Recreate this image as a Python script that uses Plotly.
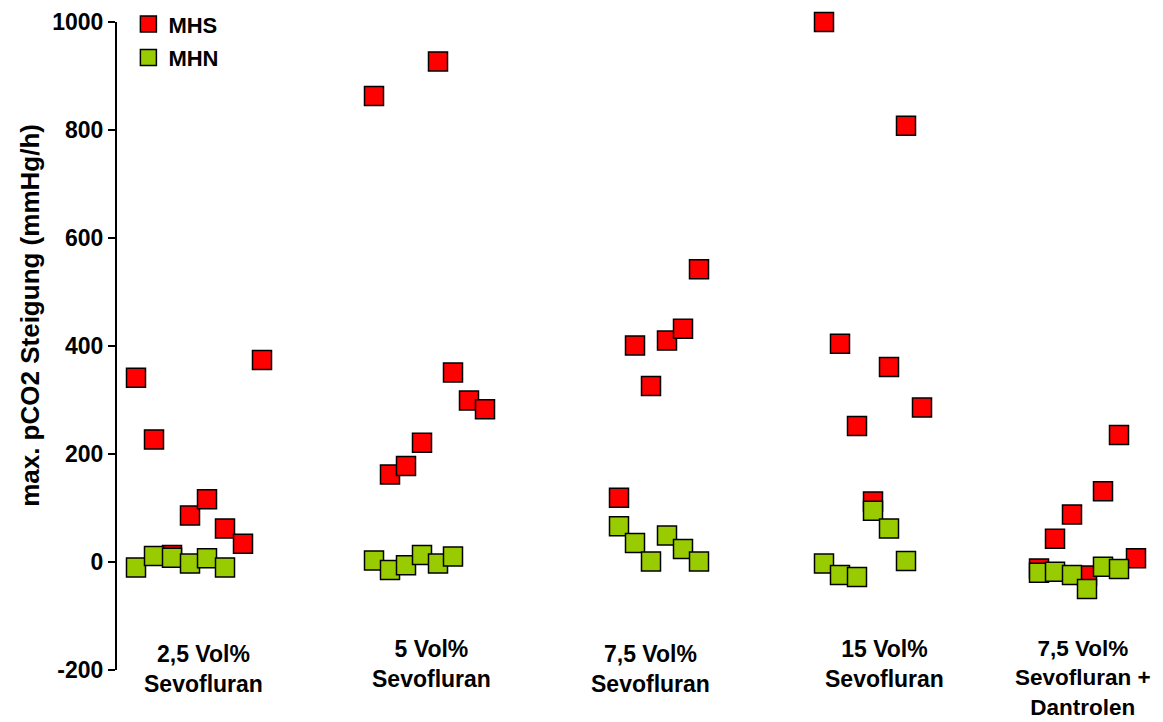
import plotly.graph_objects as go

# Treatment groups (label text as printed under each cluster)
groups = [
    "2,5 Vol%<br>Sevofluran",
    "5 Vol%<br>Sevofluran",
    "7,5 Vol%<br>Sevofluran",
    "15 Vol%<br>Sevofluran",
    "7,5 Vol%<br>Sevofluran +<br>Dantrolen",
]
# horizontal centre of each group label (x-axis units)
group_x = [0.86, 3.14, 5.33, 7.67, 9.66]
# vertical top of each group label (y-axis units)
group_label_y = [-143, -134, -143, -134, -134]
# label font size per group
group_font = [23, 23, 23, 23, 22.5]

# MHS animals: x position (jittered within group) and max. pCO2 slope (mmHg/h)
mhs_x = [0.19, 0.37, 0.55, 0.73, 0.90, 1.08, 1.26, 1.45,
         2.57, 2.73, 2.89, 3.05, 3.21, 3.36, 3.52, 3.68,
         5.02, 5.18, 5.34, 5.50, 5.66, 5.82,
         7.07, 7.23, 7.40, 7.56, 7.72, 7.89, 8.05,
         9.22, 9.38, 9.55, 9.70, 9.86, 10.02, 10.19]
mhs_y = [341, 227, 13, 86, 116, 62, 34, 374,
         863, 162, 178, 221, 927, 351, 299, 283,
         119, 401, 326, 410, 432, 542,
         1000, 404, 252, 112, 361, 808, 286,
         -12, 43, 88, -25, 131, 235, 7]

# MHN animals
mhn_x = [0.19, 0.37, 0.55, 0.73, 0.90, 1.08,
         2.57, 2.73, 2.89, 3.05, 3.21, 3.36,
         5.02, 5.18, 5.34, 5.50, 5.66, 5.82,
         7.07, 7.23, 7.40, 7.56, 7.72, 7.89,
         9.22, 9.38, 9.55, 9.70, 9.86, 10.02]
mhn_y = [-10, 11, 8, -3, 7, -10,
         3, -15, -6, 13, -3, 10,
         66, 35, 1, 49, 24, 1,
         -3, -24, -28, 95, 62, 2,
         -20, -18, -24, -50, -9, -13]

y_ticks = [-200, 0, 200, 400, 600, 800, 1000]

FONT = "Liberation Sans, Arial, sans-serif"
marker_line = dict(color="black", width=1.5)

fig = go.Figure()
fig.add_trace(go.Scatter(
    x=mhs_x, y=mhs_y, mode="markers", name="<b>MHS</b>", legendgroup="mhs",
    marker=dict(symbol="square", size=19, color="#FF0000", line=marker_line),
    cliponaxis=False,
))
fig.add_trace(go.Scatter(
    x=mhn_x, y=mhn_y, mode="markers", name="<b>MHN</b>", legendgroup="mhn",
    marker=dict(symbol="square", size=19, color="#99CC00", line=marker_line),
    cliponaxis=False,
))

for label, gx, gy, fs in zip(groups, group_x, group_label_y, group_font):
    fig.add_annotation(
        x=gx, y=gy, xref="x", yref="y", text=f"<b>{label}</b>",
        showarrow=False, xanchor="center", yanchor="top", align="center",
        font=dict(family=FONT, size=fs, color="black"),
    )

# rotated y-axis title
fig.add_annotation(
    x=-0.084, y=0.548, xref="paper", yref="paper",
    text="<b>max. pCO2 Steigung (mmHg/h)</b>", textangle=-90,
    showarrow=False, xanchor="center", yanchor="middle",
    font=dict(family=FONT, size=26, color="black"),
)

fig.update_xaxes(visible=False, range=[0, 10.36], fixedrange=True)
fig.update_yaxes(
    range=[-200, 1000], tickvals=y_ticks,
    ticktext=[f"<b>{v}</b>" for v in y_ticks],
    showline=True, linecolor="black", linewidth=2,
    ticks="outside", ticklen=7, tickwidth=1.5, tickcolor="black",
    showgrid=False, zeroline=False,
    tickfont=dict(family=FONT, size=23, color="black"),
)

fig.update_layout(
    width=1163, height=722,
    margin=dict(l=117, r=10, t=22, b=52, autoexpand=False),
    paper_bgcolor="white", plot_bgcolor="white",
    showlegend=True,
    legend=dict(
        x=0.011, y=1.029, xref="paper", yref="paper",
        xanchor="left", yanchor="top",
        bgcolor="rgba(0,0,0,0)", borderwidth=0,
        tracegroupgap=2,
        font=dict(family=FONT, size=22, color="black"),
    ),
)

fig.write_html("out.html")
